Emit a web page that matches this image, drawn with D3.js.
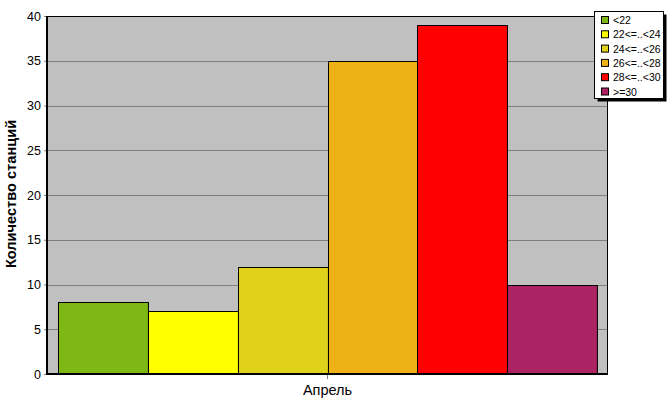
<!DOCTYPE html>
<html><head><meta charset="utf-8">
<script src="https://cdn.jsdelivr.net/npm/d3@7"></script>
<style>body{margin:0;background:#fff}svg{display:block}text{font-family:"Liberation Sans",Arial,sans-serif}</style>
</head><body><svg id="c" width="667" height="415"></svg>
<script>
const categories = ["Апрель"];
const seriesNames = ["<22","22<=..<24","24<=..<26","26<=..<28","28<=..<30",">=30"];
const seriesValues = [8, 7, 12, 35, 39, 10];
const seriesColors = ["#7FB715","#FFFF00","#E0D11A","#EEB116","#FF0000","#AB2362"];
const yTicks = [0,5,10,15,20,25,30,35,40];
const yTitle = "Количество станций";

const svg = d3.select("#c");
const L=48, R=607, T=16, B=374;
const y = d3.scaleLinear().domain([0,40]).range([B,T]);
const x0 = d3.scaleBand().domain(categories).range([L,R]).paddingInner(0).paddingOuter(0.018);
const x1 = d3.scaleBand().domain(seriesNames).range([0,x0.bandwidth()]);

svg.append("rect").attr("x",L).attr("y",T).attr("width",R-L).attr("height",B-T).attr("fill","#C0C0C0");
// grid
svg.append("g").selectAll("line").data(yTicks.filter(d=>d>0&&d<40)).join("line")
  .attr("x1",L).attr("x2",R).attr("y1",d=>Math.round(y(d))+0.5).attr("y2",d=>Math.round(y(d))+0.5)
  .attr("stroke","#808080");
// bars
svg.append("g").selectAll("rect").data(seriesValues).join("rect")
  .attr("x",(d,i)=>Math.round(x0(categories[0])+x1(seriesNames[i]))+0.5)
  .attr("y",d=>Math.round(y(d))+0.5)
  .attr("width",x1.bandwidth())
  .attr("height",d=>B-Math.round(y(d)))
  .attr("fill",(d,i)=>seriesColors[i]).attr("stroke","#000").attr("stroke-width",1);
// borders
svg.append("line").attr("x1",L).attr("x2",R+0.5).attr("y1",T+0.5).attr("y2",T+0.5).attr("stroke","#000");
svg.append("line").attr("x1",R+0.5).attr("x2",R+0.5).attr("y1",T).attr("y2",B).attr("stroke","#000");
// y axis
const ya = d3.axisLeft(y).tickValues(yTicks).tickSize(4).tickPadding(3);
const gy = svg.append("g").attr("transform",`translate(${L},0)`).call(ya);
gy.select(".domain").remove();
gy.selectAll(".tick line").attr("stroke","#808080");
gy.selectAll("text").attr("font-size","12.5px").attr("fill","#000").attr("font-family","'Liberation Sans',Arial,sans-serif");
// minor ticks
svg.append("g").selectAll("line").data(d3.range(0,41).filter(d=>d%5)).join("line")
  .attr("x1",L-2).attr("x2",L).attr("y1",d=>Math.round(y(d))+0.5).attr("y2",d=>Math.round(y(d))+0.5).attr("stroke","#808080");
svg.append("line").attr("x1",L-1).attr("x2",L-1).attr("y1",T).attr("y2",B+1).attr("stroke","#000").attr("stroke-width",2);
// x axis
const xa = d3.axisBottom(x0).tickSize(5).tickPadding(6);
const gx = svg.append("g").attr("transform",`translate(0,${B})`).call(xa);
gx.select(".domain").remove();
gx.selectAll(".tick line").attr("stroke","#808080");
gx.selectAll("text").attr("font-size","14.5px").attr("fill","#000").attr("font-family","'Liberation Sans',Arial,sans-serif");
svg.append("line").attr("x1",L-2).attr("x2",R+1).attr("y1",B).attr("y2",B).attr("stroke","#000").attr("stroke-width",2);
// y title
svg.append("text").attr("transform",`translate(16,${(T+B)/2-1}) rotate(-90)`).attr("text-anchor","middle")
  .attr("font-size","14.6px").attr("font-weight","bold").text(yTitle);
// legend
const lg = svg.append("g");
lg.append("rect").attr("x",597.5).attr("y",14.5).attr("width",69).attr("height",87).attr("fill","#000");
lg.append("rect").attr("x",594.5).attr("y",11.5).attr("width",69).attr("height",87).attr("fill","#fff").attr("stroke","#000");
const it = lg.selectAll("g.it").data(seriesNames).join("g").attr("class","it")
  .attr("transform",(d,i)=>`translate(0,${20+i*14.3})`);
it.append("rect").attr("x",601.5).attr("y",-3.5).attr("width",7).attr("height",7).attr("fill",(d,i)=>seriesColors[i]).attr("stroke","#000");
it.append("text").attr("x",613).attr("y",4).attr("font-size","10.5px").text(d=>d);
</script></body></html>
